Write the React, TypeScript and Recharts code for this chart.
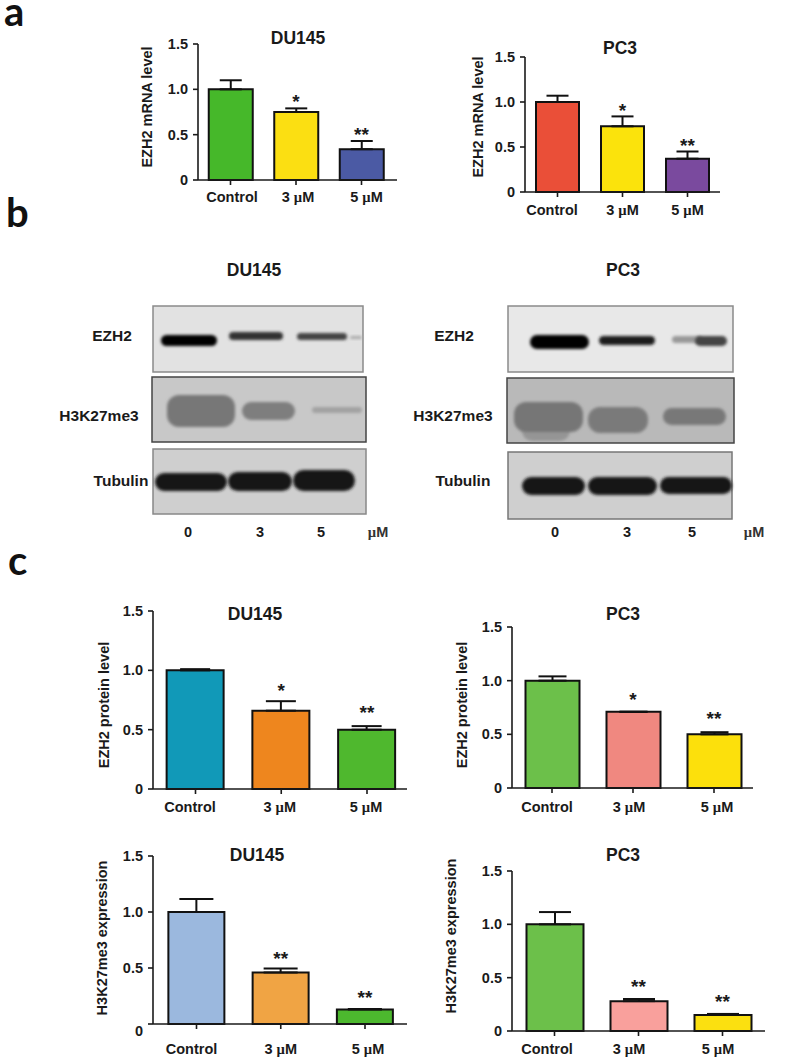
import React from 'react';
import { ComposedChart, Bar, Line, Cell, ErrorBar, LabelList, XAxis, YAxis } from 'recharts';

const categories = ['Control', '3 µM', '5 µM'];
const yTicks = [0, 0.5, 1, 1.5];

// panel a
const mrnaDuValues = [1.0, 0.75, 0.34];
const mrnaDuErrors = [0.1, 0.04, 0.09];
const mrnaDuStars = ['', '*', '**'];
const mrnaDuStarAt = [null, 0.87, 0.51];

const mrnaPcValues = [1.0, 0.73, 0.37];
const mrnaPcErrors = [0.07, 0.11, 0.08];
const mrnaPcStars = ['', '*', '**'];
const mrnaPcStarAt = [null, 0.91, 0.52];

// panel c, protein
const proteinDuValues = [1.0, 0.66, 0.5];
const proteinDuErrors = [0.01, 0.08, 0.03];
const proteinDuStars = ['', '*', '**'];
const proteinDuStarAt = [null, 0.83, 0.65];

const proteinPcValues = [1.0, 0.71, 0.5];
const proteinPcErrors = [0.04, 0, 0.02];
const proteinPcStars = ['', '*', '**'];
const proteinPcStarAt = [null, 0.83, 0.65];

// panel c, H3K27me3
const histoneDuValues = [1.0, 0.46, 0.13];
const histoneDuErrors = [0.115, 0.035, 0.005];
const histoneDuStars = ['', '**', '**'];
const histoneDuStarAt = [null, 0.59, 0.24];

const histonePcValues = [1.0, 0.28, 0.15];
const histonePcErrors = [0.115, 0.02, 0.01];
const histonePcStars = ['', '**', '**'];
const histonePcStarAt = [null, 0.42, 0.28];

const FONT = '"Liberation Sans", Arial, sans-serif';
const INK = '#1a1a1a';

function XTick({ x, y, payload, index, dxs }: any) {
  const [num, unit] = String(payload.value).split(' ');
  return (
    <text x={x + dxs[index]} y={y} textAnchor="middle" dominantBaseline="central" fontFamily={FONT} fontWeight="bold" fontSize={14.5} fill={INK}>
      {unit ? (
        <>
          {num}{' '}
          <tspan fontFamily='"Liberation Serif", serif'>µ</tspan>M
        </>
      ) : num}
    </text>
  );
}

function YTick({ x, y, payload, zeroDy }: any) {
  const dy = payload.value === 0 ? zeroDy : 0;
  return (
    <text x={x} y={y + dy} textAnchor="end" dominantBaseline="central" fontFamily={FONT} fontWeight="bold" fontSize={14.5} fill={INK}>
      {payload.value === 0 ? '0' : payload.value.toFixed(1)}
    </text>
  );
}

function BarPanel({ p }: { p: any }) {
  const data = categories.map((name, i) => ({
    name,
    value: p.values[i],
    err: [0, p.errors[i]],
    starAt: p.starAt[i],
    star: p.stars[i],
  }));
  const plotW = p.xEnd - p.axisX;
  const padLeft = p.first - p.step / 2 - p.axisX;
  const padRight = plotW - padLeft - p.step * 3;
  const yW = 60;
  const xH = 40;
  return (
    <div style={{ position: 'absolute', left: p.axisX - yW, top: p.top - 12 }}>
      <ComposedChart
        width={yW + plotW + 4}
        height={12 + (p.bottom - p.top) + xH}
        data={data}
        margin={{ top: 12, right: 4, bottom: 0, left: 0 }}
      >
        <XAxis
          dataKey="name"
          height={xH}
          padding={{ left: padLeft, right: padRight }}
          tick={<XTick dxs={p.labelDx} />}
          tickSize={5}
          tickMargin={p.xGap}
          interval={0}
          stroke={INK}
          strokeWidth={1.6}
        />
        <YAxis
          width={yW}
          domain={[0, 1.5]}
          ticks={yTicks}
          tick={<YTick zeroDy={p.zeroDy || 0} />}
          tickSize={5}
          tickMargin={5}
          interval={0}
          stroke={INK}
          strokeWidth={1.6}
        />
        <Bar dataKey="value" barSize={p.barW} stroke="#111" strokeWidth={2} isAnimationActive={false}>
          {p.colors.map((c: string) => <Cell key={c} fill={c} />)}
          <ErrorBar dataKey="err" direction="y" width={p.cap} stroke="#111" strokeWidth={2} isAnimationActive={false} />
        </Bar>
        <Line dataKey="starAt" stroke="none" dot={false} activeDot={false} connectNulls={false} isAnimationActive={false}>
          <LabelList dataKey="star" position="center" fontFamily={FONT} fontWeight="bold" fontSize={19} fill={INK} />
        </Line>
      </ComposedChart>
    </div>
  );
}

const panels = [
  { values: mrnaDuValues, errors: mrnaDuErrors, stars: mrnaDuStars, starAt: mrnaDuStarAt, colors: ['#46b82a', '#fbdf12', '#4b5aa4'], axisX: 198, top: 44, bottom: 180, xEnd: 397, first: 230.5, step: 65.5, barW: 44, cap: 11, xGap: 12, labelDx: [1.5, 2, 5] },
  { values: mrnaPcValues, errors: mrnaPcErrors, stars: mrnaPcStars, starAt: mrnaPcStarAt, colors: ['#ea4f38', '#fbe30c', '#7a4a9e'], axisX: 525, top: 57, bottom: 192, xEnd: 720, first: 557.5, step: 65, barW: 43, cap: 11, xGap: 13, labelDx: [-5.5, 0, 0] },
  { values: proteinDuValues, errors: proteinDuErrors, stars: proteinDuStars, starAt: proteinDuStarAt, colors: ['#1199b8', '#ee861e', '#4fb82e'], axisX: 153, top: 611, bottom: 789, xEnd: 407, first: 195.5, step: 85.75, barW: 57, cap: 15, xGap: 12.5, labelDx: [-5.5, -1.5, -1] },
  { values: proteinPcValues, errors: proteinPcErrors, stars: proteinPcStars, starAt: proteinPcStarAt, colors: ['#6cc04a', '#f08880', '#fce00c'], axisX: 512, top: 627, bottom: 788, xEnd: 753, first: 552, step: 81, barW: 54, cap: 14, xGap: 13.5, labelDx: [-5, -4, 3] },
  { values: histoneDuValues, errors: histoneDuErrors, stars: histoneDuStars, starAt: histoneDuStarAt, colors: ['#9bb8de', '#f0a444', '#4cb82e'], axisX: 153, top: 856, bottom: 1024, xEnd: 407, first: 196.5, step: 84.25, barW: 56, cap: 17, xGap: 19.5, zeroDy: 7, labelDx: [-5, 0, 3] },
  { values: histonePcValues, errors: histonePcErrors, stars: histonePcStars, starAt: histonePcStarAt, colors: ['#6cc04a', '#f9a09c', '#fbe010'], axisX: 512, top: 871, bottom: 1031, xEnd: 765, first: 554.5, step: 84, barW: 57, cap: 16, xGap: 12.5, labelDx: [-7.5, -9.5, -4.5] },
];

// chart titles and rotated y labels, page coordinates
const titles = [
  { text: 'DU145', x: 298, y: 38 },
  { text: 'PC3', x: 620, y: 48 },
  { text: 'DU145', x: 254, y: 270 },
  { text: 'PC3', x: 623, y: 270 },
  { text: 'DU145', x: 255, y: 614 },
  { text: 'PC3', x: 623, y: 614 },
  { text: 'DU145', x: 257, y: 855 },
  { text: 'PC3', x: 623, y: 855 },
];
const yLabels = [
  { text: 'EZH2 mRNA level', x: 147, y: 107 },
  { text: 'EZH2 mRNA level', x: 478, y: 117 },
  { text: 'EZH2 protein level', x: 104, y: 705 },
  { text: 'EZH2 protein level', x: 462, y: 705 },
  { text: 'H3K27me3 expression', x: 102, y: 938 },
  { text: 'H3K27me3 expression', x: 451, y: 936 },
];

// western blot panels
const blotBoxes = [
  { x: 153, y: 306, w: 210, h: 66, fill: '#e2e2e2', stroke: '#8a8a8a' },
  { x: 152, y: 377, w: 214, h: 65, fill: '#c8c8c8', stroke: '#444' },
  { x: 153, y: 449, w: 213, h: 65, fill: '#cfcfcf', stroke: '#888' },
  { x: 508, y: 306, w: 225, h: 66, fill: '#e8e8e8', stroke: '#8a8a8a' },
  { x: 507, y: 378, w: 227, h: 65, fill: '#b9b9b9', stroke: '#444' },
  { x: 508, y: 452, w: 224, h: 67, fill: '#cfcfcf', stroke: '#777' },
];
const blotBands = [
  { x: 161, y: 335, w: 56, h: 11, fill: '#050505' },
  { x: 229, y: 332, w: 54, h: 8, fill: '#333' },
  { x: 297, y: 333, w: 50, h: 7, fill: '#444' },
  { x: 350, y: 336, w: 12, h: 3, fill: '#aaa' },
  { x: 167, y: 395, w: 68, h: 32, fill: '#777' },
  { x: 242, y: 402, w: 53, h: 18, fill: '#7e7e7e' },
  { x: 312, y: 407, w: 50, h: 6, fill: '#a2a2a2' },
  { x: 155, y: 473, w: 72, h: 18, fill: '#161616' },
  { x: 228, y: 472, w: 64, h: 19, fill: '#161616' },
  { x: 293, y: 470, w: 62, h: 21, fill: '#161616' },
  { x: 530, y: 335, w: 59, h: 14, fill: '#050505' },
  { x: 599, y: 336, w: 56, h: 9, fill: '#1c1c1c' },
  { x: 672, y: 336, w: 30, h: 7, fill: '#999' },
  { x: 695, y: 336, w: 32, h: 10, fill: '#444' },
  { x: 522, y: 420, w: 48, h: 21, fill: '#959595' },
  { x: 514, y: 402, w: 69, h: 30, fill: '#767676' },
  { x: 588, y: 407, w: 60, h: 26, fill: '#7a7a7a' },
  { x: 663, y: 408, w: 63, h: 17, fill: '#787878' },
  { x: 522, y: 477, w: 63, h: 18, fill: '#161616' },
  { x: 588, y: 477, w: 69, h: 18, fill: '#161616' },
  { x: 660, y: 477, w: 72, h: 17, fill: '#161616' },
];
const blotLabels = [
  { text: 'EZH2', x: 112, y: 335 },
  { text: 'H3K27me3', x: 99, y: 415 },
  { text: 'Tubulin', x: 121, y: 480 },
  { text: 'EZH2', x: 454, y: 335 },
  { text: 'H3K27me3', x: 453, y: 415 },
  { text: 'Tubulin', x: 463, y: 480 },
];
const doseLabels = [
  { text: '0', x: 188 }, { text: '3', x: 260 }, { text: '5', x: 321 },
  { text: '0', x: 555 }, { text: '3', x: 627 }, { text: '5', x: 692 },
];
const unitLabels = [378, 754];

const letters = [
  { text: 'a', x: 4, y: 26 },
  { text: 'b', x: 6, y: 227 },
  { text: 'c', x: 8, y: 575 },
];

export default function App() {
  return (
    <div style={{ position: 'absolute', left: 0, top: 0, width: 800, height: 1061, background: '#fff', overflow: 'hidden' }}>
      <svg width={800} height={1061} style={{ position: 'absolute', left: 0, top: 0 }}>
        <defs>
          <filter id="soft" x="-20%" y="-60%" width="140%" height="220%">
            <feGaussianBlur stdDeviation="1.6" />
          </filter>
        </defs>
        {blotBoxes.map((b, i) => (
          <rect key={i} x={b.x} y={b.y} width={b.w} height={b.h} fill={b.fill} stroke={b.stroke} strokeWidth={1.5} />
        ))}
        {blotBands.map((b, i) => (
          <rect key={i} x={b.x} y={b.y} width={b.w} height={b.h} rx={Math.min(b.h / 2, 12)} fill={b.fill} filter="url(#soft)" />
        ))}
        {blotLabels.map((t, i) => (
          <text key={i} x={t.x} y={t.y} textAnchor="middle" dominantBaseline="central" fontFamily={FONT} fontWeight="bold" fontSize={15.5} fill={INK}>{t.text}</text>
        ))}
        {doseLabels.map((t, i) => (
          <text key={i} x={t.x} y={532} textAnchor="middle" dominantBaseline="central" fontFamily={FONT} fontWeight="bold" fontSize={14.5} fill={INK}>{t.text}</text>
        ))}
        {unitLabels.map((x) => (
          <text key={x} x={x} y={532} textAnchor="middle" dominantBaseline="central" fontFamily={FONT} fontWeight="bold" fontSize={14.5} fill="#333">
            <tspan fontFamily='"Liberation Serif", serif'>µ</tspan>M
          </text>
        ))}
        {titles.map((t, i) => (
          <text key={i} x={t.x} y={t.y} textAnchor="middle" dominantBaseline="central" fontFamily={FONT} fontWeight="bold" fontSize={17.5} fill={INK}>{t.text}</text>
        ))}
        {yLabels.map((t, i) => (
          <text key={i} transform={`translate(${t.x},${t.y}) rotate(-90)`} textAnchor="middle" dominantBaseline="central" fontFamily={FONT} fontWeight="bold" fontSize={14.5} fill={INK}>{t.text}</text>
        ))}
      </svg>
      {letters.map((t) => (
        <div key={t.text} style={{ position: 'absolute', left: t.x, top: t.y - 26.5, lineHeight: '22px', fontFamily: 'Lato, sans-serif', fontWeight: 'bold', fontSize: 40, color: '#111' }}>{t.text}</div>
      ))}
      {panels.map((p, i) => <BarPanel key={i} p={p} />)}
    </div>
  );
}
